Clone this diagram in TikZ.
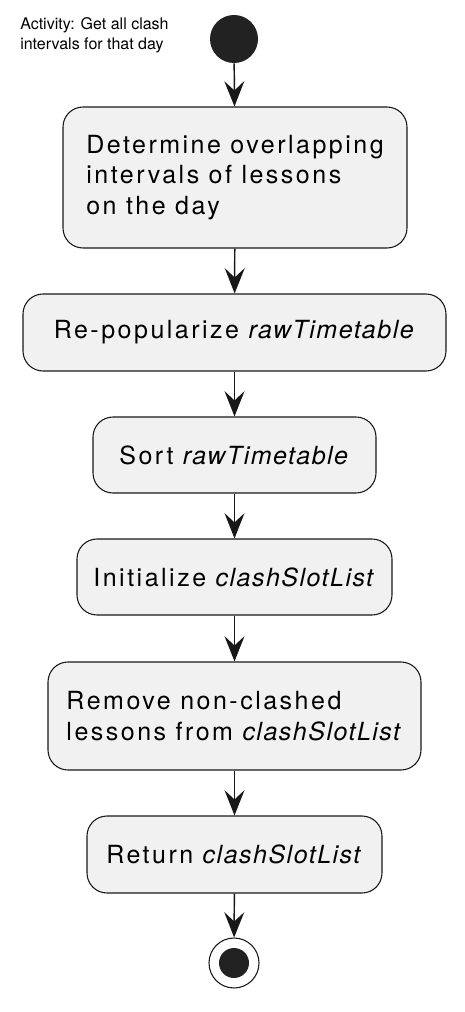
\documentclass[tikz,border=0pt]{standalone}
\usepackage{fontspec}
\setmainfont{TeX Gyre Heros}
\usetikzlibrary{arrows.meta}
\definecolor{actfill}{HTML}{F1F1F1}
\definecolor{actline}{HTML}{181818}
\definecolor{dotfill}{HTML}{222222}
\newfontfamily\widesans[LetterSpace=10,ItalicFeatures={LetterSpace=6}]{TeX Gyre Heros}
\begin{document}
\begin{tikzpicture}[x=0.75pt,y=-0.75pt,
    action/.style={draw=actline,fill=actfill,line width=0.8pt,rounded corners=15pt,
      align=left,inner sep=0pt,font=\widesans\fontsize{18.75}{22.9}\selectfont},
    flow/.style={-{Stealth[length=19pt,width=15pt,inset=7pt]},draw=actline,line width=1.1pt}]
  \useasboundingbox (0,0) rectangle (464,1012);
  \node[anchor=north west,align=left,inner sep=0pt,font=\fontsize{12}{15}\selectfont]
    (title) at (20,17.5) {Activity: Get all clash\\intervals for that day};
  \draw
    (234,39) node[circle,fill=dotfill,minimum size=36pt,inner sep=0pt] (0){}
    (235,177.5) node[action,minimum width=258pt,minimum height=105.75pt] (1){Determine overlapping\\intervals of lessons\\on the day}
    (234.5,332.5) node[action,minimum width=317.25pt,minimum height=57.75pt] (2){Re-popularize \textit{rawTimetable}}
    (234.5,455) node[action,minimum width=212.25pt,minimum height=57pt] (3){Sort \textit{rawTimetable}}
    (234.5,577) node[action,minimum width=236.25pt,minimum height=57pt] (4){Initialize \textit{clashSlotList}}
    (234.5,716) node[action,minimum width=279.75pt,minimum height=81pt] (5){Remove non-clashed\\lessons from \textit{clashSlotList}}
    (234.5,854.5) node[action,minimum width=221.25pt,minimum height=57.75pt] (6){Return \textit{clashSlotList}}
    (234,963) node[circle,draw=actline,fill=white,line width=0.8pt,minimum size=37.5pt,inner sep=0pt,
      path picture={\fill[dotfill] (path picture bounding box.center) circle (11.25pt);}] (7){};
  \begin{scope}[flow]
    \draw (0) to (1);
    \draw (1) to (2);
    \draw (2) to (3);
    \draw (3) to (4);
    \draw (4) to (5);
    \draw (5) to (6);
    \draw (6) to (7);
  \end{scope}
\end{tikzpicture}
\end{document}
